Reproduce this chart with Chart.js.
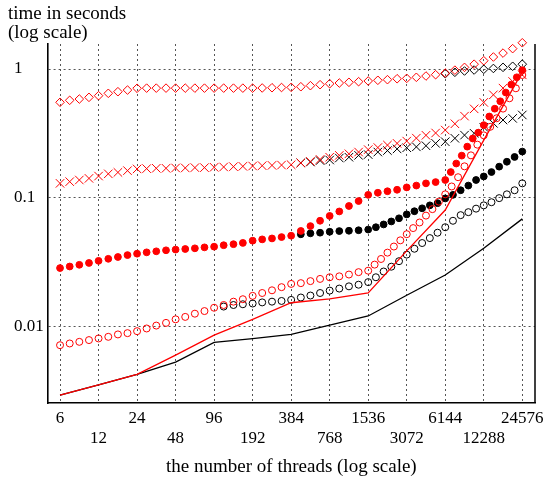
<!DOCTYPE html>
<html>
<head>
<meta charset="utf-8">
<script src="https://cdn.jsdelivr.net/npm/chart.js@4.4.1/dist/chart.umd.min.js"></script>
<style>
  body { margin: 0; background: #fff; }
  #wrap { width: 555px; height: 478px; }
</style>
</head>
<body>
<div id="wrap"><canvas id="myChart"></canvas></div>
<script>
// thread counts, 4 per doubling
var threads = [6, 7.14, 8.49, 10.1, 12, 14.3, 17, 20.2, 24, 28.5, 33.9, 40.4, 48, 57.1, 67.9, 80.7,
    96, 114, 136, 161, 192, 228, 272, 323, 384, 457, 543, 646, 768, 913, 1086, 1292,
    1536, 1827, 2172, 2583, 3072, 3653, 4344, 5167, 6144, 7307, 8689, 10333, 12288, 14613, 17378, 20666, 24576];
// denser samples used by the circle series where they climb
var threadsFine5 = [1764, 2027, 2328, 2674, 3072, 3529, 4054, 4656, 5349, 6144,
    7058, 8107, 9313, 10698, 12288, 14115, 16214, 18626, 21396, 24576];
var threadsFine6 = [1724, 1935, 2172, 2438, 2737, 3072, 3448, 3870, 4344, 4876, 5474, 6144,
    6896, 7741, 8689, 9753, 10947, 12288, 13793, 15482, 17378, 19506, 21895, 24576];
var threadsFine7 = [6784, 7490, 8269, 9130, 10080, 11130, 12288, 13567, 14979, 16538, 18260, 20160, 22258, 24576];
var lineThreads = [6, 12, 24, 48, 96, 192, 384, 768, 1536, 3072, 6144, 12288, 24576];

var xTicks = [6, 12, 24, 48, 96, 192, 384, 768, 1536, 3072, 6144, 12288, 24576];
var yTicks = [0.01, 0.1, 1];
var yTitle = ['time in seconds', '(log scale)'];
var xTitle = 'the number of threads (log scale)';

// times in seconds
var redDiamond = [0.551, 0.571, 0.584, 0.602, 0.620, 0.647, 0.666, 0.686, 0.708, 0.710, 0.710, 0.710, 0.710, 0.710, 0.710, 0.710,
    0.710, 0.710, 0.710, 0.710, 0.710, 0.712, 0.715, 0.718, 0.720, 0.728, 0.742, 0.755, 0.768, 0.778, 0.788, 0.797,
    0.807, 0.817, 0.826, 0.840, 0.846, 0.862, 0.882, 0.903, 0.93, 0.98, 1.03, 1.09, 1.16, 1.24, 1.33, 1.44, 1.60];
var blackDiamond = [0.92, 0.943, 0.965, 0.982, 0.995, 1.01, 1.03, 1.05, 1.09];

var redCross = [0.129, 0.133, 0.137, 0.141, 0.147, 0.153, 0.157, 0.162, 0.167, 0.168, 0.169, 0.169, 0.170, 0.170, 0.171, 0.171,
    0.172, 0.173, 0.174, 0.175, 0.176, 0.177, 0.178, 0.179, 0.180, 0.186, 0.191, 0.198, 0.206, 0.213, 0.219, 0.226,
    0.236, 0.245, 0.256, 0.264, 0.275, 0.29, 0.305, 0.318, 0.335, 0.375, 0.43, 0.49, 0.55, 0.63, 0.71, 0.80, 0.90];
var blackCross = [0.186, 0.189, 0.194, 0.196, 0.203, 0.206, 0.213, 0.216, 0.226, 0.232, 0.239, 0.244,
    0.248, 0.253, 0.264, 0.272, 0.289, 0.306, 0.316, 0.352, 0.378, 0.401, 0.413, 0.439];

var redDot = [0.0283, 0.0291, 0.0300, 0.0310, 0.0322, 0.0334, 0.0345, 0.0357, 0.0366, 0.0375, 0.0382, 0.0389, 0.0394,
    0.0398, 0.0403, 0.0410, 0.0415, 0.0426, 0.0434, 0.0444, 0.0462, 0.0473, 0.0481, 0.0493, 0.0505,
    0.055, 0.060, 0.066, 0.072, 0.078, 0.086, 0.094, 0.105, 0.109, 0.112, 0.115, 0.120, 0.124, 0.129, 0.132, 0.137,
    0.158, 0.184, 0.212, 0.249, 0.288, 0.320, 0.366, 0.427, 0.491, 0.561, 0.656, 0.757, 0.862, 0.98];
var blackDot = [0.0518, 0.0527, 0.0533, 0.0542, 0.0549, 0.0552, 0.0557, 0.0564,
    0.0588, 0.0618, 0.0652, 0.0690, 0.0740, 0.0783, 0.0825, 0.0870, 0.0905, 0.0985,
    0.105, 0.114, 0.124, 0.137, 0.146, 0.158, 0.174, 0.190, 0.207, 0.228];

var redRing = [0.00711, 0.00733, 0.00755, 0.00779, 0.00802, 0.00826, 0.00862, 0.00882, 0.00914, 0.00959, 0.0101, 0.0106,
    0.0113, 0.0118, 0.0125, 0.0131, 0.0139, 0.0146, 0.0155, 0.0162, 0.0172, 0.0181, 0.0190, 0.0201, 0.0213,
    0.0216, 0.0224, 0.0233, 0.0240, 0.0244, 0.0252, 0.0263, 0.0270,
    0.0301, 0.0333, 0.0373, 0.0416, 0.0465, 0.0519, 0.0579, 0.0640, 0.0724, 0.0813, 0.0929, 0.106,
    0.122, 0.144, 0.175, 0.213, 0.258, 0.305, 0.355, 0.414, 0.492, 0.592, 0.708, 0.898];
var blackRing = [0.0142, 0.0146, 0.0148, 0.0150, 0.0153, 0.0155, 0.0157, 0.0160,
    0.0167, 0.0173, 0.0181, 0.0189, 0.0196, 0.0204, 0.0210, 0.0220,
    0.0240, 0.0266, 0.029, 0.032, 0.036, 0.040, 0.0443, 0.0484, 0.0533, 0.0588,
    0.066, 0.073, 0.077, 0.082, 0.087, 0.092, 0.099, 0.106, 0.114, 0.129];

var redLine = [0.00291, 0.0035, 0.00421, 0.00595, 0.0085, 0.0113, 0.0152, 0.0163, 0.0181, 0.0385, 0.080, 0.28, 0.95];
var blackLine = [0.00291, 0.0035, 0.00421, 0.00525, 0.00747, 0.0080, 0.00863, 0.0102, 0.0120, 0.0174, 0.0250, 0.0403, 0.0683];

var RED = 'rgb(255, 0, 0)';
var BLACK = 'rgb(0, 0, 0)';

function pts(xs, ys) {
    return ys.map((y, i) => ({ x: xs[i], y: y }));
}

function markers(xs, ys, color, style, radius, filled, order) {
    return {
        data: pts(xs, ys),
        showLine: false,
        pointStyle: style,
        pointRadius: radius,
        pointBorderWidth: 1,
        pointBorderColor: color,
        pointBackgroundColor: filled ? color : 'rgba(0,0,0,0)',
        borderColor: color,
        clip: false,
        order: order
    };
}

function line(xs, ys, color, order) {
    return {
        data: pts(xs, ys),
        borderColor: color,
        borderWidth: 1.3,
        pointRadius: 0,
        tension: 0,
        order: order
    };
}

// y title + right frame line
var framePlugin = {
    id: 'framePlugin',
    afterDraw(chart) {
        var ctx = chart.ctx;
        var a = chart.chartArea;
        ctx.save();
        ctx.strokeStyle = BLACK;
        ctx.lineWidth = 1.5;
        ctx.beginPath();
        ctx.moveTo(a.right, a.top);
        ctx.lineTo(a.right, a.bottom);
        ctx.stroke();
        ctx.fillStyle = BLACK;
        ctx.font = '19px "Liberation Serif"';
        ctx.textAlign = 'left';
        ctx.textBaseline = 'middle';
        yTitle.forEach((t, i) => ctx.fillText(t, 8, 14 + i * 19));
        ctx.restore();
    }
};

Chart.defaults.font.family = '"Liberation Serif", serif';
Chart.defaults.color = BLACK;

var config = {
    type: 'line',
    data: {
        datasets: [
            line(lineThreads, blackLine, BLACK, 6),
            markers(threads.slice(40), blackDiamond, BLACK, 'rectRot', 4.3, false, 5),
            markers(threads.slice(25), blackCross, BLACK, 'crossRot', 6, false, 5),
            markers(threads.slice(25, 33).concat(threadsFine5), blackDot, BLACK, 'circle', 3.4, true, 5),
            markers(threads.slice(17, 33).concat(threadsFine5), blackRing, BLACK, 'circle', 3.5, false, 5),
            line(lineThreads, redLine, RED, 3),
            markers(threads, redDiamond, RED, 'rectRot', 4.3, false, 1),
            markers(threads, redCross, RED, 'crossRot', 6, false, 1),
            markers(threads.slice(0, 41).concat(threadsFine7), redDot, RED, 'circle', 3.4, true, 1),
            markers(threads.slice(0, 33).concat(threadsFine6), redRing, RED, 'circle', 3.5, false, 1)
        ]
    },
    options: {
        responsive: true,
        maintainAspectRatio: false,
        animation: false,
        layout: { padding: { left: 14, right: 20, top: 44, bottom: 0 } },
        plugins: {
            legend: { display: false },
            tooltip: { enabled: false }
        },
        scales: {
            x: {
                type: 'logarithmic',
                min: 4.81,
                max: 30890,
                afterBuildTicks: (axis) => { axis.ticks = xTicks.map(v => ({ value: v })); },
                ticks: {
                    autoSkip: false,
                    maxRotation: 0,
                    padding: 6,
                    font: { size: 17, lineHeight: 1.15 },
                    callback: (v, i) => (i % 2 === 0 ? [String(v)] : ['', String(v)])
                },
                grid: { color: '#555', lineWidth: 1, drawTicks: false },
                border: { color: BLACK, width: 1.6, dash: [2, 3] },
                title: {
                    display: true,
                    text: xTitle,
                    font: { size: 19, lineHeight: 1.2 },
                    padding: { top: 1, bottom: 0 }
                }
            },
            y: {
                type: 'logarithmic',
                min: 0.00252,
                max: 1.565,
                afterBuildTicks: (axis) => { axis.ticks = yTicks.map(v => ({ value: v })); },
                ticks: {
                    padding: 2,
                    crossAlign: 'far',
                    font: { size: 17, lineHeight: 1.15 },
                    callback: (v) => String(v)
                },
                grid: { color: '#555', lineWidth: 1, drawTicks: false },
                border: { color: BLACK, width: 1.6, dash: [2, 3] }
            }
        }
    },
    plugins: [framePlugin]
};

var myChart = new Chart(document.getElementById('myChart'), config);
</script>
</body>
</html>
